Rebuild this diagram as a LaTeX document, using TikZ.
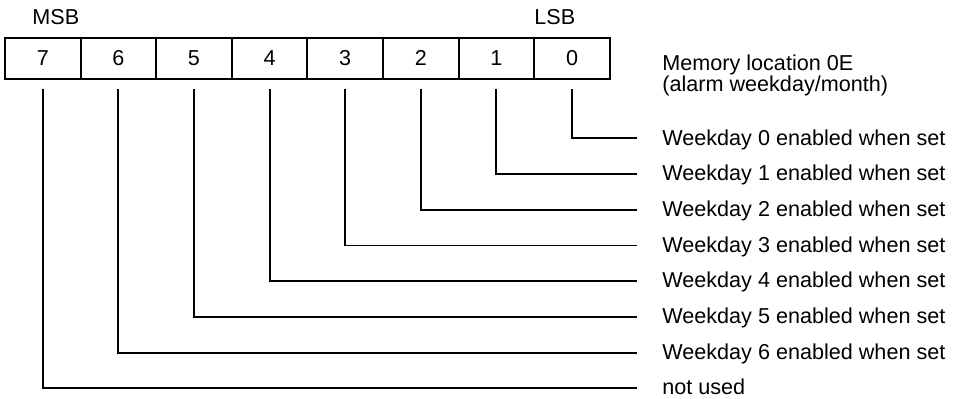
\documentclass[tikz,border=0pt]{standalone}
\usepackage{fontspec}
\setmainfont{Liberation Sans}
\usetikzlibrary{positioning,calc}

\tikzset{
  bitcell/.style={draw,line width=1pt,minimum width=37.8pt,minimum height=20.5pt,
    inner sep=0pt,font=\fontsize{10.8}{13}\selectfont},
  bitlabel/.style={anchor=base west,inner sep=0pt,font=\fontsize{10.8}{13}\selectfont},
  bitline/.style={line width=0.95pt},
}

\begin{document}
\begin{tikzpicture}[x=0.5pt,y=-0.5pt]
  \useasboundingbox (0,0) rectangle (953,398);

  % -- REGISTER (bit 7 left ... bit 0 right) -------------------------
  \foreach \b in {0,...,7}
    \node[bitcell] (b\b) at ({5+75.6*(7-\b)+37.8},58) {\b};

  \node[bitlabel] (msb) at (32,24) {MSB};
  \node[bitlabel] (lsb) at (534,24) {LSB};
  \node[bitlabel] (memloc) at (662,70) {Memory location 0E};
  \node[bitlabel] (memnote) at (662,91) {(alarm weekday/month)};

  % -- BIT MEANINGS --------------------------------------------------
  \foreach \b/\txt in {0/Weekday 0 enabled when set,
                       1/Weekday 1 enabled when set,
                       2/Weekday 2 enabled when set,
                       3/Weekday 3 enabled when set,
                       4/Weekday 4 enabled when set,
                       5/Weekday 5 enabled when set,
                       6/Weekday 6 enabled when set,
                       7/not used}
    \node[bitlabel] (lab\b) at (662,{145+35.7*\b}) {\txt};

  % -- LEADERS -------------------------------------------------------
  \foreach \b in {0,...,7}
    \draw[bitline] ([yshift=-4.5pt]b\b.south) |- ([xshift=-12.5pt,yshift=3.3pt]lab\b.base west);

\end{tikzpicture}
\end{document}
